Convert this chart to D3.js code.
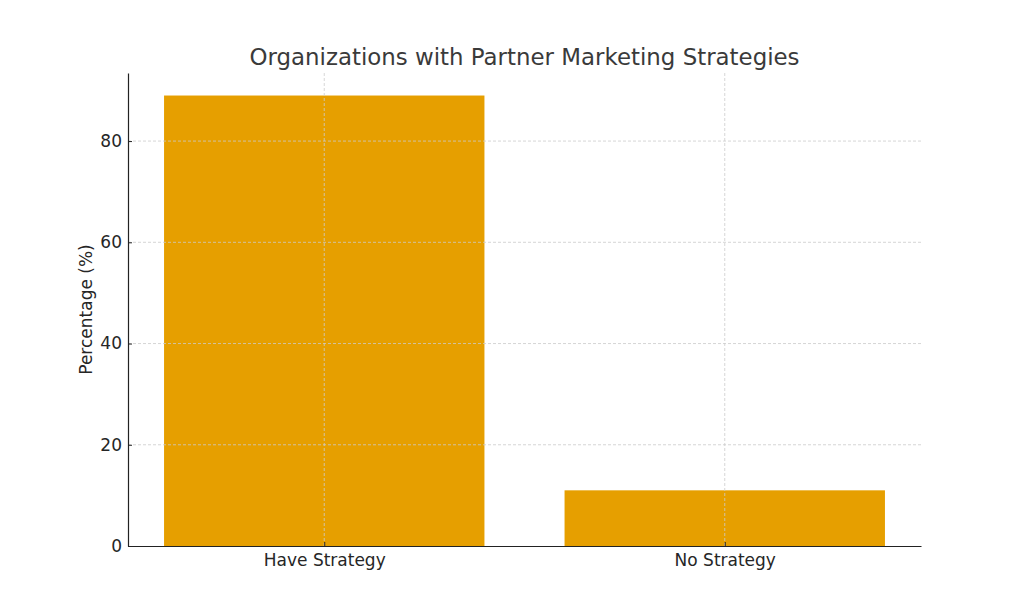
<!DOCTYPE html>
<html>
<head>
<meta charset="utf-8">
<script src="https://cdn.jsdelivr.net/npm/d3@7"></script>
<style>
  body { margin: 0; background: #fff; }
  text { font-family: "DejaVu Sans", sans-serif; }
</style>
</head>
<body>
<div class="chart"></div>
<script>
// chart data
var categories = ["Have Strategy", "No Strategy"];
var percentages = [89, 11];
var yTicks = [0, 20, 40, 60, 80];

var width = 1024, height = 614;
var margin = { top: 73, right: 103, bottom: 68, left: 128 };
var innerW = width - margin.left - margin.right,
    innerH = height - margin.top - margin.bottom;

var svg = d3.select(".chart")
    .append("svg")
    .attr("width", width)
    .attr("height", height);

var g = svg.append("g")
    .attr("transform", "translate(" + margin.left + "," + margin.top + ")");

// matplotlib-like limits: bars width 0.8, 5% padding
var x = d3.scaleLinear()
    .domain([-0.49, categories.length - 1 + 0.49])
    .range([0, innerW]);

var y = d3.scaleLinear()
    .domain([0, d3.max(percentages) * 1.05])
    .range([innerH, 0]);

// bars
g.selectAll(".bar")
    .data(percentages)
    .enter()
    .append("rect")
    .attr("class", "bar")
    .attr("x", function (d, i) { return x(i - 0.4); })
    .attr("width", x(0.8) - x(0))
    .attr("y", function (d) { return y(d); })
    .attr("height", function (d) { return innerH - y(d); })
    .attr("fill", "#E69F00");

// grid on top of bars
g.append("g")
    .attr("class", "grid")
    .selectAll("line")
    .data(yTicks.slice(1))
    .enter()
    .append("line")
    .attr("x1", 0)
    .attr("x2", innerW)
    .attr("y1", function (d) { return y(d); })
    .attr("y2", function (d) { return y(d); });

g.append("g")
    .attr("class", "grid")
    .selectAll("line")
    .data(categories)
    .enter()
    .append("line")
    .attr("x1", function (d, i) { return x(i); })
    .attr("x2", function (d, i) { return x(i); })
    .attr("y1", 0)
    .attr("y2", innerH);

g.selectAll(".grid line")
    .attr("stroke", "#cccccc")
    .attr("stroke-width", 0.8)
    .attr("stroke-dasharray", "3,2");

// axes
var yAxis = d3.axisLeft(y)
    .tickValues(yTicks)
    .tickSize(-4)
    .tickSizeOuter(0)
    .tickPadding(6);

var xAxis = d3.axisBottom(x)
    .tickValues(d3.range(categories.length))
    .tickFormat(function (d) { return categories[d]; })
    .tickSize(-4)
    .tickSizeOuter(0)
    .tickPadding(8);

var ya = g.append("g").call(yAxis);
var xa = g.append("g").attr("transform", "translate(0," + innerH + ")").call(xAxis);

[ya, xa].forEach(function (a) {
    a.select(".domain").attr("stroke", "#222").attr("stroke-width", 1.2);
    a.selectAll(".tick line").attr("stroke", "#222");
    a.selectAll(".tick text")
        .attr("fill", "#262626")
        .style("font-size", "17px");
});

// title
svg.append("text")
    .attr("x", margin.left + innerW / 2)
    .attr("y", 65)
    .attr("text-anchor", "middle")
    .attr("fill", "#3a3a3a")
    .style("font-size", "22.9px")
    .text("Organizations with Partner Marketing Strategies");

// y label
svg.append("text")
    .attr("transform", "translate(92," + (margin.top + innerH / 2) + ") rotate(-90)")
    .attr("text-anchor", "middle")
    .attr("fill", "#262626")
    .style("font-size", "17px")
    .text("Percentage (%)");
</script>
</body>
</html>
